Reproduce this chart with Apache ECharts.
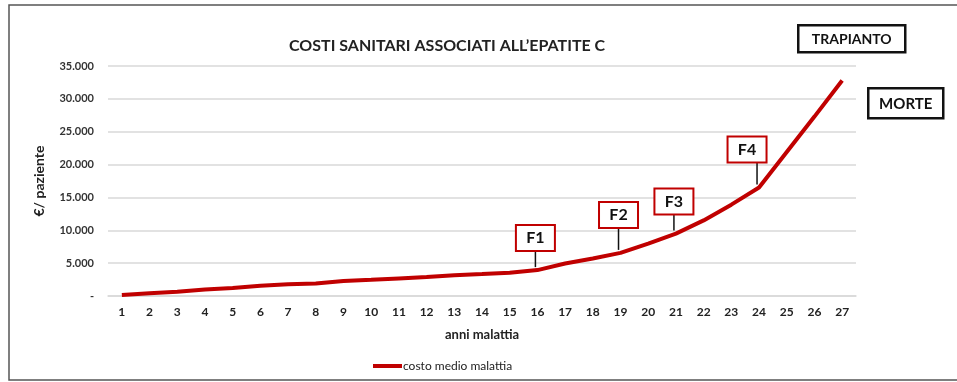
<!DOCTYPE html>
<html>
<head>
<meta charset="utf-8">
<script src="https://cdn.jsdelivr.net/npm/echarts@6/dist/echarts.min.js"></script>
<style>
  html, body { margin: 0; padding: 0; background: #fff; }
  #chart { width: 957px; height: 382px; }
</style>
</head>
<body>
<div id="chart"></div>
<script>
// Years of disease (x categories)
const years = ['1','2','3','4','5','6','7','8','9','10','11','12','13','14','15','16','17','18','19','20','21','22','23','24','25','26','27'];
// Average cost per patient (€)
const avgCost = [150, 400, 650, 1000, 1200, 1550, 1770, 1920, 2270, 2470, 2680, 2880, 3140, 3330, 3530, 3940, 4950, 5700, 6560, 7980, 9500, 11500, 13900, 16500, 21900, 27300, 32800];
// Fibrosis stages and the year at which each is reached
const stageNames = ['F1', 'F2', 'F3', 'F4'];
const stageYears = ['16', '19', '21', '24'];
// Y axis ticks
const yMax = 35000;
const yStep = 5000;

// Callout geometry for each stage (leader length, box shift)
const stageLayout = {
  F1: { leader: 16, dx: 0 },
  F2: { leader: 22, dx: 0 },
  F3: { leader: 16, dx: 0 },
  F4: { leader: 22, dx: -10 }
};

const RED = '#c00000';
const FONT = 'Lato, "Open Sans", sans-serif';

function fmtThousands(v) {
  if (v === 0) return '-';
  return String(v).replace(/\B(?=(\d{3})+(?!\d))/g, '.');
}

const stageData = stageNames.map((n, i) => {
  const idx = years.indexOf(stageYears[i]);
  return [idx, avgCost[idx], n];
});

const chart = echarts.init(document.getElementById('chart'), null, { renderer: 'canvas' });

chart.setOption({
  animation: false,
  backgroundColor: '#ffffff',
  textStyle: { fontFamily: FONT },
  title: {
    text: 'COSTI SANITARI ASSOCIATI ALL\u2019EPATITE C',
    left: 284,
    top: 33,
    textStyle: { fontFamily: FONT, fontSize: 16, fontWeight: 'bold', color: '#222' }
  },
  grid: { left: 108, right: 101, top: 66, bottom: 86 },
  legend: {
    left: 368,
    top: 355,
    icon: 'rect',
    itemWidth: 29,
    itemHeight: 4,
    textStyle: { fontFamily: FONT, fontSize: 12, color: '#222', padding: [0, 0, 0, -4] },
    data: ['costo medio malattia']
  },
  xAxis: {
    type: 'category',
    data: years,
    boundaryGap: true,
    name: 'anni malattia',
    nameLocation: 'middle',
    nameGap: 32,
    nameTextStyle: { fontFamily: FONT, fontSize: 13, fontWeight: 'bold', color: '#222' },
    axisLine: { show: true, lineStyle: { color: '#d9d9d9', width: 1.5 } },
    axisTick: { show: false },
    axisLabel: { margin: 10, fontSize: 12, fontWeight: 'bold', color: '#222', interval: 0 },
    splitLine: { show: false }
  },
  yAxis: {
    type: 'value',
    min: 0,
    max: yMax,
    interval: yStep,
    name: '\u20AC/ paziente',
    nameLocation: 'middle',
    nameGap: 62,
    nameRotate: 90,
    nameTextStyle: { fontFamily: FONT, fontSize: 14, fontWeight: 'bold', color: '#222' },
    axisLine: { show: false },
    axisTick: { show: false },
    axisLabel: { margin: 14, fontSize: 11, fontWeight: 'bold', color: '#333', formatter: fmtThousands },
    splitLine: { lineStyle: { color: '#d9d9d9', width: 1.5 } }
  },
  series: [
    {
      name: 'costo medio malattia',
      type: 'line',
      data: avgCost,
      symbol: 'none',
      smooth: false,
      color: RED,
      lineStyle: { color: RED, width: 4 },
      z: 3
    },
    {
      name: 'stadi',
      type: 'custom',
      data: stageData,
      z: 5,
      renderItem: function (params, api) {
        const pt = api.coord([api.value(0), api.value(1)]);
        const name = stageNames[params.dataIndex];
        const lay = stageLayout[name];
        const bw = 39, bh = 26;
        const x = pt[0] - 2;
        const yBottom = pt[1] - 3;
        const yTop = yBottom - lay.leader;
        const bx = x - bw / 2 + lay.dx;
        return {
          type: 'group',
          children: [
            {
              type: 'line',
              shape: { x1: x, y1: yBottom, x2: x, y2: yTop },
              style: { stroke: '#111', lineWidth: 1.5 }
            },
            {
              type: 'rect',
              shape: { x: bx, y: yTop - bh, width: bw, height: bh },
              style: { fill: '#fff', stroke: RED, lineWidth: 2 }
            },
            {
              type: 'text',
              style: {
                x: bx + bw / 2, y: yTop - bh / 2,
                text: name, align: 'center', verticalAlign: 'middle',
                font: 'bold 16px ' + FONT, fill: '#111'
              }
            }
          ]
        };
      }
    }
  ],
  graphic: [
    {
      type: 'rect',
      shape: { x: 9, y: 5, width: 960, height: 375 },
      style: { fill: 'none', stroke: '#555', lineWidth: 1.5 },
      silent: true
    },
    {
      type: 'group',
      left: 797, top: 24,
      children: [
        { type: 'rect', shape: { x: 0, y: 0, width: 107, height: 27 }, style: { fill: '#fff', stroke: '#111', lineWidth: 2.5 } },
        { type: 'text', style: { x: 53.5, y: 14, text: 'TRAPIANTO', align: 'center', verticalAlign: 'middle', font: 'bold 14px ' + FONT, fill: '#111' } }
      ]
    },
    {
      type: 'group',
      left: 867, top: 87,
      children: [
        { type: 'rect', shape: { x: 0, y: 0, width: 75, height: 30 }, style: { fill: '#fff', stroke: '#111', lineWidth: 2.5 } },
        { type: 'text', style: { x: 37.5, y: 15.5, text: 'MORTE', align: 'center', verticalAlign: 'middle', font: 'bold 15px ' + FONT, fill: '#111' } }
      ]
    }
  ]
});
</script>
</body>
</html>
